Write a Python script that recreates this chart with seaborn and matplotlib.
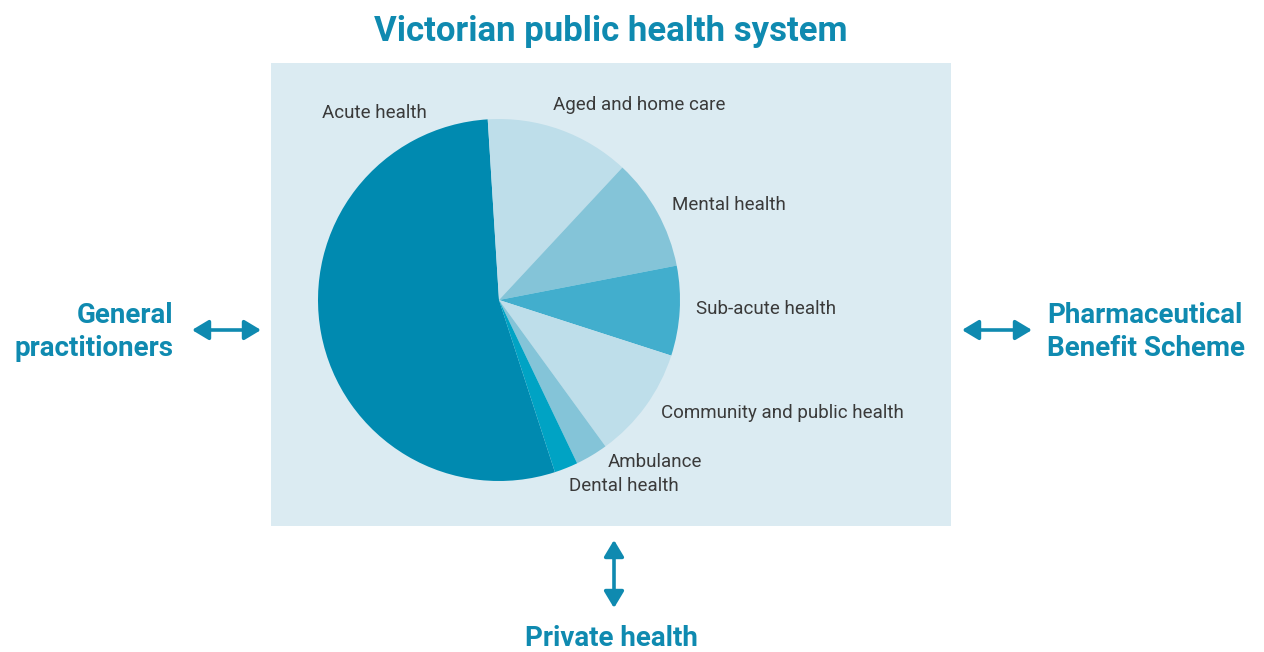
import matplotlib
matplotlib.use("Agg")
import matplotlib.pyplot as plt
import seaborn as sns
from matplotlib.patches import Rectangle

# ---- data ----
categories = ["Acute health", "Aged and home care", "Mental health", "Sub-acute health",
              "Community and public health", "Ambulance", "Dental health"]
shares = [53.9, 12.9, 10.0, 8.0, 10.0, 2.9, 2.1]
slice_colors = ["#008ab0", "#bedeea", "#84c4d8", "#42aecd", "#bedeea", "#84c4d8", "#00a3c4"]
title = "Victorian public health system"
left_label = "General\npractitioners"
right_label = "Pharmaceutical\nBenefit Scheme"
bottom_label = "Private health"

sns.set_theme(style="white")
plt.rcParams["font.family"] = ["Roboto", "DejaVu Sans"]

W, H = 1264, 652
fig = plt.figure(figsize=(W / 100, H / 100), dpi=100)
fig.patch.set_facecolor("white")

TEAL = "#0f8ab0"
BOX = "#dbebf2"
TXT = "#3a3a3a"

# full-figure canvas in pixel coordinates
bg = fig.add_axes([0, 0, 1, 1])
bg.set_xlim(0, W)
bg.set_ylim(H, 0)
bg.axis("off")
bg.add_patch(Rectangle((271, 63), 680, 463, facecolor=BOX, edgecolor="none", zorder=0))

bold = dict(family=["Roboto", "DejaVu Sans"], fontweight="bold", color=TEAL)
bg.text(611, 31, title, ha="center", va="center", fontsize=25, **bold)
bg.text(173, 332, left_label, ha="right", va="center", fontsize=20, linespacing=1.25, **bold)
bg.text(1047, 332, right_label, ha="left", va="center", fontsize=20, linespacing=1.25, **bold)
bg.text(611, 639, bottom_label, ha="center", va="center", fontsize=20, **bold)

arrow = dict(arrowstyle="<|-|>,head_length=1.0,head_width=0.6", color=TEAL, lw=2.6,
             shrinkA=0, shrinkB=0, mutation_scale=10)
bg.annotate("", xy=(261, 330), xytext=(192, 330), arrowprops=arrow)
bg.annotate("", xy=(1032, 330), xytext=(962, 330), arrowprops=arrow)
bg.annotate("", xy=(614, 608), xytext=(614, 540), arrowprops=arrow)

# slice labels (left-aligned positions)
label_pos = {
    "Acute health": (322, 113),
    "Aged and home care": (553, 105),
    "Mental health": (672, 205),
    "Sub-acute health": (696, 309),
    "Community and public health": (661, 413),
    "Ambulance": (608, 462),
    "Dental health": (569, 486),
}
for name in categories:
    x, y = label_pos[name]
    bg.text(x, y, name, ha="left", va="center", fontsize=13.5, color=TXT)

# pie axes: centre (499,300), radius 181 px
cx, cy, r = 499, 300, 181
pax = fig.add_axes([(cx - r) / W, (H - cy - r) / H, 2 * r / W, 2 * r / H])
pax.pie(shares, colors=slice_colors, startangle=-72, counterclock=False, radius=1,
        wedgeprops=dict(linewidth=0))
pax.set_xlim(-1, 1)
pax.set_ylim(-1, 1)
pax.set_aspect("equal")
pax.axis("off")

fig.savefig("out.png", dpi=100, facecolor="white")
